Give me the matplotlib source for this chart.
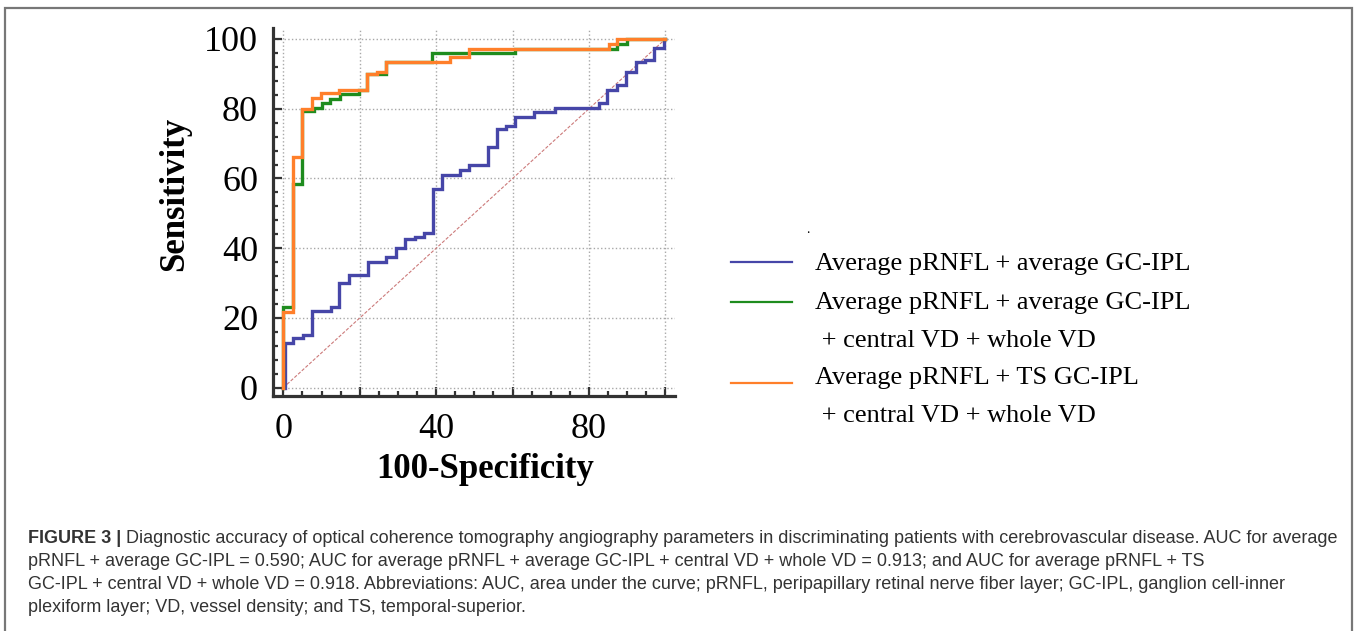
import matplotlib
matplotlib.use("Agg")
import matplotlib.pyplot as plt
from matplotlib.lines import Line2D
from matplotlib.patches import Rectangle
from matplotlib.ticker import MultipleLocator

W, H = 1354, 631

# ROC curves: each x is where the curve jumps up to the matching y level
blue_x = [0, 0.5, 2.5, 5.2, 7.4, 12.4, 14.7, 17.2, 22.1, 26.9, 29.5, 31.9, 34.5, 36.7, 39.1,
          41.5, 46.3, 48.7, 53.5, 55.9, 58.3, 60.7, 65.7, 71.1, 82.5, 84.8, 87.3, 89.7,
          92.2, 94.7, 97.1, 99.7, 100]
blue_y = [0, 12.7, 14.3, 15.1, 22.0, 23.1, 29.9, 32.3, 36.1, 37.6, 40.0, 42.6, 43.3, 44.3, 57.0,
          61.0, 62.4, 63.9, 68.9, 74.1, 75.0, 77.7, 79.1, 80.1, 81.6, 85.4, 86.8, 90.6,
          93.5, 94.0, 97.3, 100, 100]

green_x = [0, 0, 2.5, 5.0, 7.9, 10.0, 12.2, 14.9, 19.9, 22.0, 26.8, 38.8, 60.7, 87.3, 89.9, 100]
green_y = [0, 23.2, 58.4, 79.4, 80.1, 81.6, 82.8, 84.2, 85.4, 89.9, 93.5, 95.9, 97.1, 98.6, 100, 100]

orange_x = [0, 0, 2.5, 5.0, 7.4, 9.8, 14.7, 22.0, 24.4, 26.8, 43.6, 48.7, 85.1, 87.3, 100]
orange_y = [0, 21.8, 66.1, 79.9, 83.0, 84.6, 85.4, 89.9, 90.6, 93.5, 94.9, 97.1, 98.6, 100, 100]

ref_line = [0, 100]

labels = [
    ["Average pRNFL + average GC-IPL"],
    ["Average pRNFL + average GC-IPL", " + central VD + whole VD"],
    ["Average pRNFL + TS GC-IPL", " + central VD + whole VD"],
]
colors = ["#4646a8", "#1e8c1e", "#ff7f2a"]

x_ticks = [0, 20, 40, 60, 80, 100]
x_tick_labels = ["0", "", "40", "", "80", ""]
y_ticks = [0, 20, 40, 60, 80, 100]

caption_bold = "FIGURE 3 |"
caption_lines = [
    " Diagnostic accuracy of optical coherence tomography angiography parameters in discriminating patients with cerebrovascular disease. AUC for average",
    "pRNFL + average GC-IPL = 0.590; AUC for average pRNFL + average GC-IPL + central VD + whole VD = 0.913; and AUC for average pRNFL + TS",
    "GC-IPL + central VD + whole VD = 0.918. Abbreviations: AUC, area under the curve; pRNFL, peripapillary retinal nerve fiber layer; GC-IPL, ganglion cell-inner",
    "plexiform layer; VD, vessel density; and TS, temporal-superior.",
]


def fx(px):
    return px / W


def fy(py):
    return 1 - py / H


serif = "Liberation Serif"
fig = plt.figure(figsize=(W / 100, H / 100), dpi=100)

# axes box in pixels: left 273, right 675, top 28, bottom 396
ax = fig.add_axes([fx(273.3), fy(396), fx(675) - fx(273.3), fy(28) - fy(396)])
ax.set_xlim(-2.62, 102.5)
ax.set_ylim(-2.38, 103.15)

ax.plot(ref_line, ref_line, color="#cc7a7a", lw=0.8, linestyle=(0, (3, 1.5)), zorder=2)
for xs, ys, c in [(blue_x, blue_y, colors[0]), (green_x, green_y, colors[1]), (orange_x, orange_y, colors[2])]:
    ax.plot(xs, ys, drawstyle="steps-post", color=c, lw=2.4, solid_joinstyle="miter", zorder=3)

for side in ["top", "right"]:
    ax.spines[side].set_visible(False)
for side in ["left", "bottom"]:
    ax.spines[side].set_linewidth(2.3)
    ax.spines[side].set_color("#333333")

ax.set_xticks(x_ticks)
ax.set_xticklabels(x_tick_labels)
ax.set_yticks(y_ticks)
ax.xaxis.set_minor_locator(MultipleLocator(5))
ax.yaxis.set_minor_locator(MultipleLocator(4))
ax.tick_params(which="major", direction="in", length=6.5, width=1.6, color="#333333")
ax.tick_params(which="minor", direction="in", length=3.5, width=1.6, color="#333333")
ax.tick_params(axis="x", which="major", pad=12)
ax.tick_params(axis="y", which="major", pad=11)
for lab in ax.get_xticklabels() + ax.get_yticklabels():
    lab.set_fontfamily(serif)
    lab.set_fontsize(26)
ax.grid(True, which="major", linestyle=":", color="#a8a8a8", lw=1)
ax.set_axisbelow(True)

ax.set_xlabel("100-Specificity", fontfamily=serif, fontweight="bold", fontsize=25)
ax.set_ylabel("Sensitivity", fontfamily=serif, fontweight="bold", fontsize=25)
ax.xaxis.label.set_va("center")
ax.yaxis.label.set_va("center")
ax.xaxis.set_label_coords((485 - 273.3) / 401.7, (396 - 470) / 368)
ax.yaxis.set_label_coords((175 - 273.3) / 401.7, (396 - 193.5) / 368)

# legend drawn by hand to keep the wrapped lines aligned as in the figure
handle_y = [262, 302, 383]
text_base = [[270], [309, 347], [384, 422]]
for c, hy, lines, bases in zip(colors, handle_y, labels, text_base):
    fig.add_artist(Line2D([fx(731), fx(792)], [fy(hy), fy(hy)], color=c, lw=1.6,
                          transform=fig.transFigure))
    for line, base in zip(lines, bases):
        fig.text(fx(815), fy(base), line, fontfamily=serif, fontsize=19, va="baseline", ha="left")
fig.text(fx(806), fy(233), ".", fontfamily=serif, fontsize=10, va="baseline", ha="left")

# caption
cap_base = [543, 566, 589, 612]
cap_color = "#333333"
cap_size = 12.95
tb = fig.text(fx(28), fy(cap_base[0]), caption_bold, fontfamily="Liberation Sans", fontweight="bold",
              fontsize=cap_size, color=cap_color, va="baseline", ha="left")
fig.canvas.draw()
bb = tb.get_window_extent()
fig.text(bb.x1 / W, fy(cap_base[0]), caption_lines[0], fontfamily="Liberation Sans", fontsize=cap_size,
         color=cap_color, va="baseline", ha="left")
for line, base in zip(caption_lines[1:], cap_base[1:]):
    fig.text(fx(28), fy(base), line, fontfamily="Liberation Sans", fontsize=cap_size,
             color=cap_color, va="baseline", ha="left")

# outer frame
fig.add_artist(Rectangle((fx(5), -0.02), fx(1352) - fx(5), fy(8) + 0.02, fill=False,
                         edgecolor="#777777", lw=1.6, transform=fig.transFigure))

fig.savefig("out.png", dpi=100)
